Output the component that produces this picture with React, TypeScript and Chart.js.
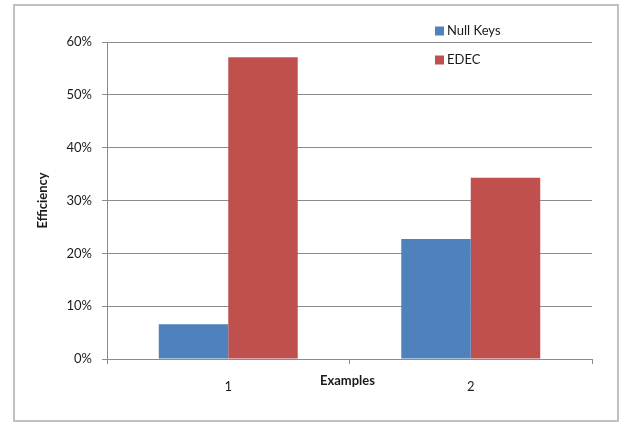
import React, { useEffect, useRef } from "react";
import { Chart, registerables } from "chart.js";

Chart.register(...registerables);

const categories = ["1", "2"];
const nullKeys = [0.066, 0.227];
const edec = [0.571, 0.343];
const seriesNames = ["Null Keys", "EDEC"];
const colors = ["#4F81BD", "#C0504D"];
const yTicks = [0, 0.1, 0.2, 0.3, 0.4, 0.5, 0.6];
const xTitle = "Examples";
const yTitle = "Efficiency";

const FONT = "Lato, 'Open Sans', sans-serif";

const overlay = {
  id: "overlay",
  afterDraw(chart: any) {
    const ctx = chart.ctx;
    const area = chart.chartArea;
    ctx.save();
    ctx.fillStyle = "#1a1a1a";
    ctx.font = `bold 13px ${FONT}`;
    ctx.textAlign = "center";
    ctx.textBaseline = "middle";
    ctx.fillText(xTitle, (area.left + area.right) / 2 - 2, area.bottom + 22);
    ctx.save();
    ctx.translate(43, (area.top + area.bottom) / 2);
    ctx.rotate(-Math.PI / 2);
    ctx.fillText(yTitle, 0, 0);
    ctx.restore();
    // legend
    ctx.font = `13px ${FONT}`;
    ctx.textAlign = "left";
    seriesNames.forEach((name, i) => {
      const y = 31 + i * 29;
      ctx.fillStyle = colors[i];
      ctx.fillRect(435, y - 4.5, 9, 9);
      ctx.fillStyle = "#1a1a1a";
      ctx.fillText(name, 447, y);
    });
    ctx.restore();
  },
};

export default function App() {
  const ref = useRef<HTMLCanvasElement>(null);
  useEffect(() => {
    if (!ref.current) return;
    const chart = new Chart(ref.current, {
      type: "bar",
      data: {
        labels: categories,
        datasets: [
          {
            label: seriesNames[0],
            data: nullKeys,
            backgroundColor: colors[0],
            borderColor: "rgba(255,255,255,0.5)",
            borderWidth: 0,
          },
          {
            label: seriesNames[1],
            data: edec,
            backgroundColor: colors[1],
            borderColor: "rgba(255,255,255,0.5)",
            borderWidth: 0,
          },
        ],
      },
      options: {
        animation: false,
        responsive: false,
        maintainAspectRatio: false,
        layout: { padding: { left: 0, top: 42, right: 34, bottom: 0 } },
        plugins: { legend: { display: false }, tooltip: { enabled: false } },
        datasets: { bar: { categoryPercentage: 0.573, barPercentage: 1 } },
        scales: {
          x: {
            offset: true,
            grid: {
              offset: true,
              drawOnChartArea: false,
              color: "#8c8c8c",
              tickLength: 5,
            },
            border: { color: "#8c8c8c" },
            ticks: {
              color: "#1a1a1a",
              font: { family: FONT, size: 13 },
              padding: 15,
            },
            afterFit: (s: any) => {
              s.height = 65;
            },
          },
          y: {
            min: 0,
            max: 0.6,
            afterBuildTicks: (s: any) => {
              s.ticks = yTicks.map((v) => ({ value: v }));
            },
            grid: { color: "#8c8c8c", tickLength: 5 },
            border: { color: "#8c8c8c" },
            ticks: {
              color: "#1a1a1a",
              font: { family: FONT, size: 13 },
              padding: 10,
              callback: (v: any) => `${Math.round(Number(v) * 100)}%`,
            },
            afterFit: (s: any) => {
              s.width = 107;
            },
          },
        },
      },
      plugins: [overlay],
    });
    return () => chart.destroy();
  }, []);
  return (
    <div style={{ position: "fixed", left: 0, top: 0, width: 626, height: 424, background: "#fff" }}>
      <div
        style={{
          position: "absolute",
          left: 13,
          top: 4,
          width: 606,
          height: 418,
          border: "2px solid #c0c0c0",
          boxSizing: "border-box",
        }}
      />
      <canvas ref={ref} width={626} height={424} style={{ position: "absolute", left: 0, top: 0 }} />
    </div>
  );
}
